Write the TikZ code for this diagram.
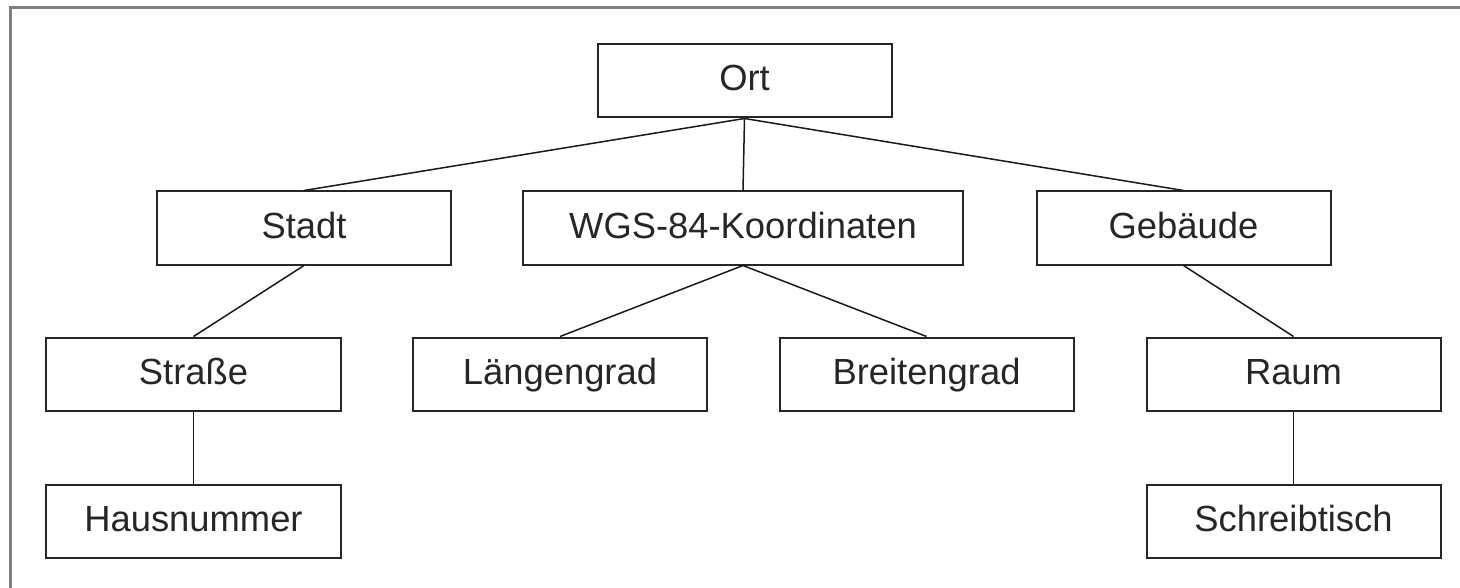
\documentclass[tikz,border=0pt]{standalone}
\usepackage{fontspec}
\setmainfont{Liberation Sans}
\begin{document}
\begin{tikzpicture}[x=1bp,y=-1bp,
  box/.style={draw=black!85,line width=2bp,minimum width=294bp,minimum height=73bp,inner sep=0pt,text height=26bp,text depth=6bp,font=\fontsize{36.5}{42}\selectfont,text=black!85},
  wide/.style={box,minimum width=440bp},
  link/.style={draw=black!90,line width=1.5bp}]
\useasboundingbox (0,0) rectangle (1460,588);
\fill[white] (0,0) rectangle (1460,588);
\coordinate (fa) at (10.5,588);
\coordinate (fb) at (10.5,7.5);
\coordinate (fc) at (1460,7.5);
\draw[black!50,line width=3bp] (fa) -- (fb) -- (fc);
\node[box] (ort) at (744.5,81) {Ort};
\node[box] (stadt) at (304,228) {Stadt};
\node[wide] (wgs) at (743,228) {WGS-84-Koordinaten};
\node[box] (geb) at (1183.5,228) {Gebäude};
\node[box] (str) at (193.5,374) {Straße};
\node[box] (lang) at (560,374) {Längengrad};
\node[box] (breit) at (926.5,374) {Breitengrad};
\node[box] (raum) at (1293.5,374) {Raum};
\node[box] (haus) at (193.5,521) {Hausnummer};
\node[box] (tisch) at (1293.5,521) {Schreibtisch};
\draw[link] (ort.south) -- (stadt.north);
\draw[link] (ort.south) -- (wgs.north);
\draw[link] (ort.south) -- (geb.north);
\draw[link] (stadt.south) -- (str.north);
\draw[link] (wgs.south) -- (lang.north);
\draw[link] (wgs.south) -- (breit.north);
\draw[link] (geb.south) -- (raum.north);
\draw[link] (str.south) -- (haus.north);
\draw[link] (raum.south) -- (tisch.north);
\end{tikzpicture}
\end{document}
